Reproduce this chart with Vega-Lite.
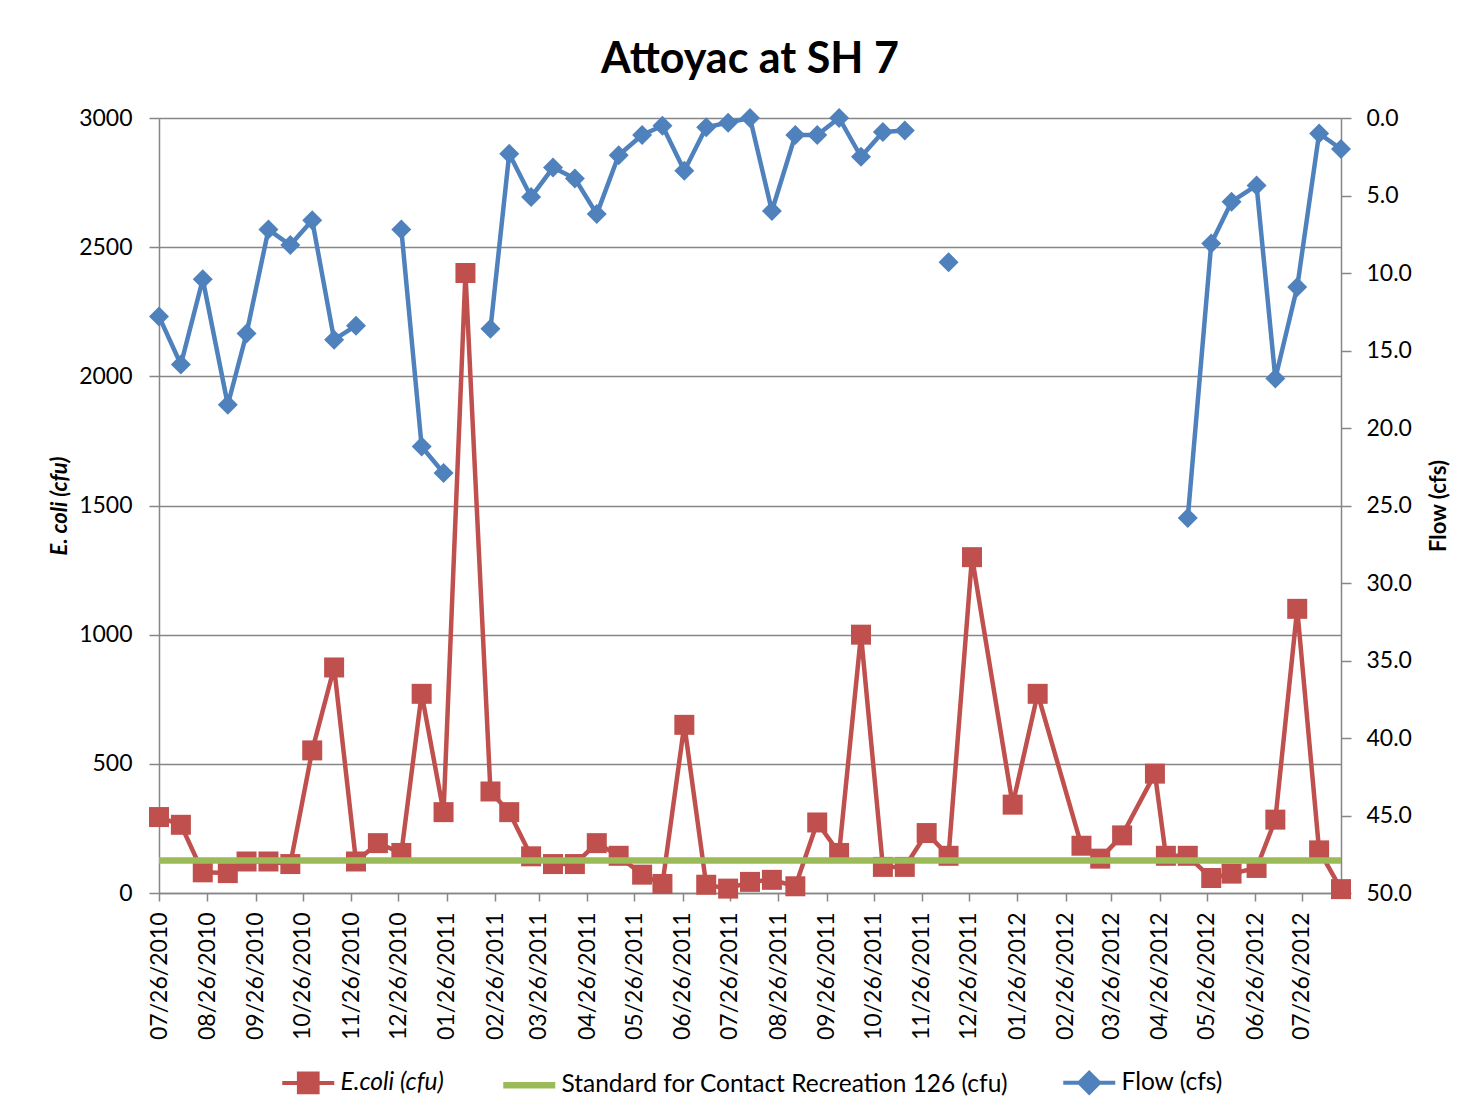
{
  "$schema": "https://vega.github.io/schema/vega-lite/v6.json",
  "width": 1182,
  "height": 775,
  "autosize": {"type": "none"},
  "padding": {"left": 159, "top": 118, "right": 132, "bottom": 223},
  "background": "white",
  "title": {"text": "Attoyac at SH 7", "font": "Lato", "fontSize": 43, "fontWeight": "bold", "color": "#000000", "anchor": "middle", "baseline": "alphabetic", "offset": -9},
  "config": {
    "font": "Lato",
    "view": {"stroke": null},
    "axis": {"domainColor": "#868686", "tickColor": "#868686", "gridColor": "#868686", "domainWidth": 1.5, "tickWidth": 1.5, "gridWidth": 1.5, "labelColor": "#000000", "titleColor": "#000000", "labelFont": "Lato", "titleFont": "Lato"}
  },
  "data": {"values": [
    {"date": "2010-07-26", "ecoli": 294, "flow": 12.8},
    {"date": "2010-08-09", "ecoli": 264, "flow": 15.9},
    {"date": "2010-08-23", "ecoli": 80, "flow": 10.4},
    {"date": "2010-09-08", "ecoli": 77, "flow": 18.5},
    {"date": "2010-09-20", "ecoli": 122, "flow": 13.9},
    {"date": "2010-10-04", "ecoli": 122, "flow": 7.2},
    {"date": "2010-10-18", "ecoli": 112, "flow": 8.2},
    {"date": "2010-11-01", "ecoli": 552, "flow": 6.6},
    {"date": "2010-11-15", "ecoli": 873, "flow": 14.3},
    {"date": "2010-11-29", "ecoli": 122, "flow": 13.4},
    {"date": "2010-12-13", "ecoli": 193, "flow": null},
    {"date": "2010-12-28", "ecoli": 155, "flow": 7.2},
    {"date": "2011-01-10", "ecoli": 771, "flow": 21.2},
    {"date": "2011-01-24", "ecoli": 313, "flow": 22.9},
    {"date": "2011-02-07", "ecoli": 2400, "flow": null},
    {"date": "2011-02-23", "ecoli": 393, "flow": 13.6},
    {"date": "2011-03-07", "ecoli": 313, "flow": 2.3},
    {"date": "2011-03-21", "ecoli": 142, "flow": 5.1},
    {"date": "2011-04-04", "ecoli": 112, "flow": 3.2},
    {"date": "2011-04-18", "ecoli": 112, "flow": 3.9},
    {"date": "2011-05-02", "ecoli": 193, "flow": 6.2},
    {"date": "2011-05-16", "ecoli": 144, "flow": 2.4},
    {"date": "2011-05-31", "ecoli": 71, "flow": 1.1},
    {"date": "2011-06-13", "ecoli": 35, "flow": 0.5},
    {"date": "2011-06-27", "ecoli": 651, "flow": 3.4},
    {"date": "2011-07-11", "ecoli": 32, "flow": 0.6},
    {"date": "2011-07-25", "ecoli": 17, "flow": 0.3},
    {"date": "2011-08-08", "ecoli": 43, "flow": 0.0},
    {"date": "2011-08-22", "ecoli": 51, "flow": 6.0},
    {"date": "2011-09-06", "ecoli": 26, "flow": 1.1},
    {"date": "2011-09-20", "ecoli": 273, "flow": 1.1},
    {"date": "2011-10-04", "ecoli": 155, "flow": 0.0},
    {"date": "2011-10-18", "ecoli": 1000, "flow": 2.5},
    {"date": "2011-11-01", "ecoli": 101, "flow": 0.9},
    {"date": "2011-11-15", "ecoli": 101, "flow": 0.8},
    {"date": "2011-11-29", "ecoli": 232, "flow": null},
    {"date": "2011-12-13", "ecoli": 144, "flow": 9.3},
    {"date": "2011-12-28", "ecoli": 1300, "flow": null},
    {"date": "2012-01-23", "ecoli": 342, "flow": null},
    {"date": "2012-02-08", "ecoli": 771, "flow": null},
    {"date": "2012-03-07", "ecoli": 183, "flow": null},
    {"date": "2012-03-19", "ecoli": 133, "flow": null},
    {"date": "2012-04-02", "ecoli": 223, "flow": null},
    {"date": "2012-04-23", "ecoli": 462, "flow": null},
    {"date": "2012-04-30", "ecoli": 144, "flow": null},
    {"date": "2012-05-14", "ecoli": 144, "flow": 25.8},
    {"date": "2012-05-29", "ecoli": 58, "flow": 8.1},
    {"date": "2012-06-11", "ecoli": 75, "flow": 5.4},
    {"date": "2012-06-27", "ecoli": 97, "flow": 4.35},
    {"date": "2012-07-09", "ecoli": 284, "flow": 16.8},
    {"date": "2012-07-23", "ecoli": 1100, "flow": 10.9},
    {"date": "2012-08-06", "ecoli": 165, "flow": 1.0},
    {"date": "2012-08-20", "ecoli": 15, "flow": 2.0}
  ]},
  "encoding": {
    "x": {
      "field": "date", "type": "temporal",
      "scale": {"type": "utc", "nice": false, "domain": [{"year": 2010, "month": 7, "date": 26, "utc": true}, {"year": 2012, "month": 8, "date": 20, "utc": true}]},
      "axis": {
        "title": null, "grid": false,
        "labelExpr": "utcFormat(datum.value, '%m/%d/%Y')",
        "labelAngle": -90, "labelFontSize": 23, "labelPadding": 11, "tickSize": 8,
        "labelOverlap": false, "labelFlush": false, "labelBound": false,
        "values": [
          {"year": 2010, "month": 7, "date": 26, "utc": true},
          {"year": 2010, "month": 8, "date": 26, "utc": true},
          {"year": 2010, "month": 9, "date": 26, "utc": true},
          {"year": 2010, "month": 10, "date": 26, "utc": true},
          {"year": 2010, "month": 11, "date": 26, "utc": true},
          {"year": 2010, "month": 12, "date": 26, "utc": true},
          {"year": 2011, "month": 1, "date": 26, "utc": true},
          {"year": 2011, "month": 2, "date": 26, "utc": true},
          {"year": 2011, "month": 3, "date": 26, "utc": true},
          {"year": 2011, "month": 4, "date": 26, "utc": true},
          {"year": 2011, "month": 5, "date": 26, "utc": true},
          {"year": 2011, "month": 6, "date": 26, "utc": true},
          {"year": 2011, "month": 7, "date": 26, "utc": true},
          {"year": 2011, "month": 8, "date": 26, "utc": true},
          {"year": 2011, "month": 9, "date": 26, "utc": true},
          {"year": 2011, "month": 10, "date": 26, "utc": true},
          {"year": 2011, "month": 11, "date": 26, "utc": true},
          {"year": 2011, "month": 12, "date": 26, "utc": true},
          {"year": 2012, "month": 1, "date": 26, "utc": true},
          {"year": 2012, "month": 2, "date": 26, "utc": true},
          {"year": 2012, "month": 3, "date": 26, "utc": true},
          {"year": 2012, "month": 4, "date": 26, "utc": true},
          {"year": 2012, "month": 5, "date": 26, "utc": true},
          {"year": 2012, "month": 6, "date": 26, "utc": true},
          {"year": 2012, "month": 7, "date": 26, "utc": true}
        ]
      }
    }
  },
  "layer": [
    {
      "layer": [
        {
          "mark": {"type": "line", "strokeWidth": 4.5, "strokeJoin": "round"},
          "encoding": {
            "y": {
              "field": "ecoli", "type": "quantitative",
              "scale": {"domain": [0, 3000], "nice": false},
              "axis": {"title": "E. coli (cfu)", "titleFontSize": 22, "titleFontWeight": "bold", "titleFontStyle": "italic", "titlePadding": 7, "values": [0, 500, 1000, 1500, 2000, 2500, 3000], "format": "d", "grid": true, "labelFontSize": 23, "labelPadding": 17, "tickSize": 10}
            },
            "color": {
              "datum": "E.coli (cfu)",
              "scale": {"domain": ["E.coli (cfu)", "Standard for Contact Recreation 126 (cfu)", "Flow (cfs)"], "range": ["#C0504D", "#9BBB59", "#4F81BD"]},
              "legend": {
                "orient": "none", "legendX": 137, "legendY": 952, "direction": "horizontal", "title": null,
                "symbolSize": 2704, "labelFontSize": 24.5, "labelColor": "#000000", "labelFont": "Lato", "labelLimit": 700,
                "labelOffset": 20, "columnPadding": 46,
                "encode": {
                  "symbols": {"update": {
                    "shape": {"signal": "datum.value === 'Flow (cfs)' ? 'M-1,0H1M0,-0.38L0.38,0L0,0.38L-0.38,0Z' : (datum.value === 'E.coli (cfu)' ? 'M-1,0H1M-0.36,-0.36H0.36V0.36H-0.36Z' : 'M-1,0H1')"},
                    "fill": {"scale": "color", "field": "value"},
                    "stroke": {"scale": "color", "field": "value"},
                    "strokeWidth": {"signal": "datum.value === 'Standard for Contact Recreation 126 (cfu)' ? 6.5 : 4"},
                    "opacity": {"value": 1}
                  }},
                  "labels": {"update": {
                    "fontStyle": {"signal": "datum.value === 'E.coli (cfu)' ? 'italic' : 'normal'"}
                  }}
                }
              }
            }
          }
        },
        {
          "mark": {"type": "point", "shape": "square", "filled": true, "size": 400, "opacity": 1},
          "encoding": {
            "y": {"field": "ecoli", "type": "quantitative"},
            "color": {"datum": "E.coli (cfu)"}
          }
        },
        {
          "data": {"values": [{"standard": 126}]},
          "mark": {"type": "rule", "strokeWidth": 6.5},
          "encoding": {
            "x": null,
            "y": {"field": "standard", "type": "quantitative"},
            "color": {"datum": "Standard for Contact Recreation 126 (cfu)"}
          }
        }
      ]
    },
    {
      "layer": [
        {
          "mark": {"type": "line", "strokeWidth": 4.5, "strokeJoin": "round"},
          "encoding": {
            "y": {
              "field": "flow", "type": "quantitative",
              "scale": {"domain": [0, 50], "reverse": true, "nice": false, "zero": false},
              "axis": {"orient": "right", "title": "Flow (cfs)", "titleFontSize": 22, "titleFontWeight": "bold", "titleAngle": 270, "titleBaseline": "top", "titlePadding": 17, "values": [0, 5, 10, 15, 20, 25, 30, 35, 40, 45, 50], "format": ".1f", "grid": false, "labelFontSize": 23, "labelPadding": 15, "tickSize": 10}
            },
            "color": {"datum": "Flow (cfs)"}
          }
        },
        {
          "mark": {"type": "point", "shape": "diamond", "filled": true, "size": 400, "opacity": 1},
          "encoding": {
            "y": {"field": "flow", "type": "quantitative"},
            "color": {"datum": "Flow (cfs)"}
          }
        }
      ]
    }
  ],
  "resolve": {"scale": {"y": "independent"}}
}
